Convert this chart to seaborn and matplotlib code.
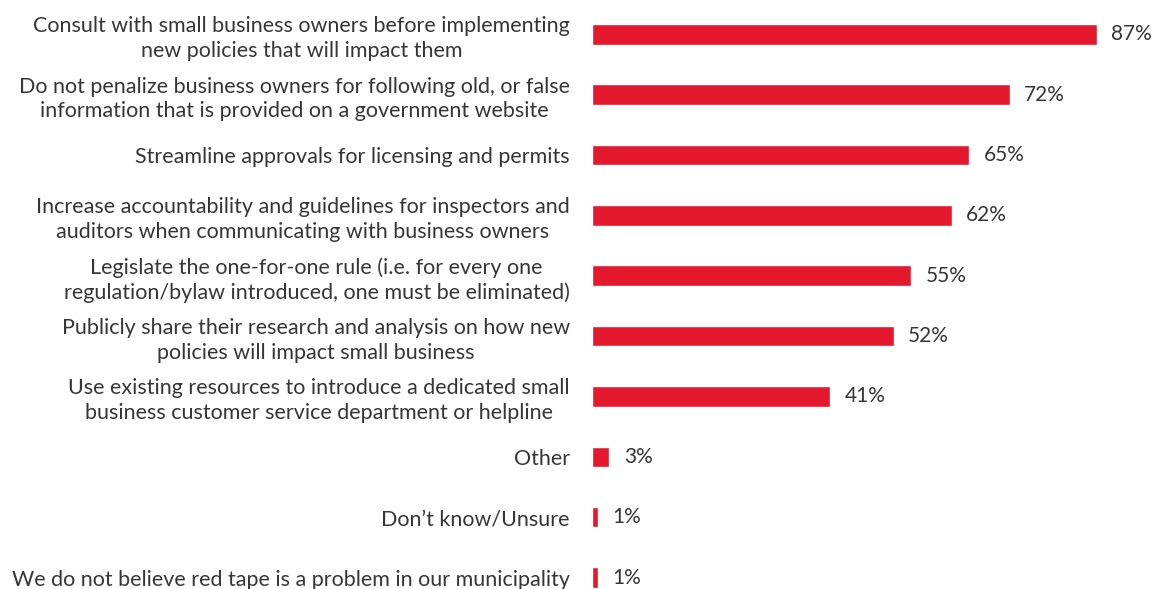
import matplotlib
matplotlib.use('agg')
import matplotlib.pyplot as plt
import seaborn as sns
import pandas as pd

# Survey answers and share of respondents (%)
answers = [
    "Consult with small business owners before implementing\nnew policies that will impact them",
    "Do not penalize business owners for following old, or false\ninformation that is provided on a government website",
    "Streamline approvals for licensing and permits",
    "Increase accountability and guidelines for inspectors and\nauditors when communicating with business owners",
    "Legislate the one-for-one rule (i.e. for every one\nregulation/bylaw introduced, one must be eliminated)",
    "Publicly share their research and analysis on how new\npolicies will impact small business",
    "Use existing resources to introduce a dedicated small\nbusiness customer service department or helpline",
    "Other",
    "Don\u2019t know/Unsure",
    "We do not believe red tape is a problem in our municipality",
]
shares = [87, 72, 65, 62, 55, 52, 41, 3, 1, 1]

df = pd.DataFrame({'answer': answers, 'share': shares})

sns.set_style('white')
plt.rcParams['font.family'] = ['Lato', 'DejaVu Sans']

red = '#E3182D'
text_col = '#363636'

fig = plt.figure(figsize=(11.56, 5.89), dpi=100)
ax = fig.add_axes([0.512, 0.0, 0.488, 0.993])

sns.barplot(data=df, x='share', y='answer', orient='h', color=red,
            width=0.34, saturation=1, ax=ax)

ax.set_xlim(0, 97.2)
ax.set_ylim(9.19, -0.5)
ax.set_xlabel('')
ax.set_ylabel('')
ax.set_xticks([])
ax.set_yticks(range(len(answers)))
ax.set_yticklabels(answers, fontsize=15.5, color=text_col,
                   multialignment='center', linespacing=1.3)
ax.tick_params(axis='y', length=0, pad=16)
sns.despine(ax=ax, left=True, bottom=True)

for i, v in enumerate(shares):
    ax.text(v + 2.5, i, f'{v}%', va='center', ha='left', fontsize=15, color=text_col)

fig.savefig('out.png', dpi=100)
